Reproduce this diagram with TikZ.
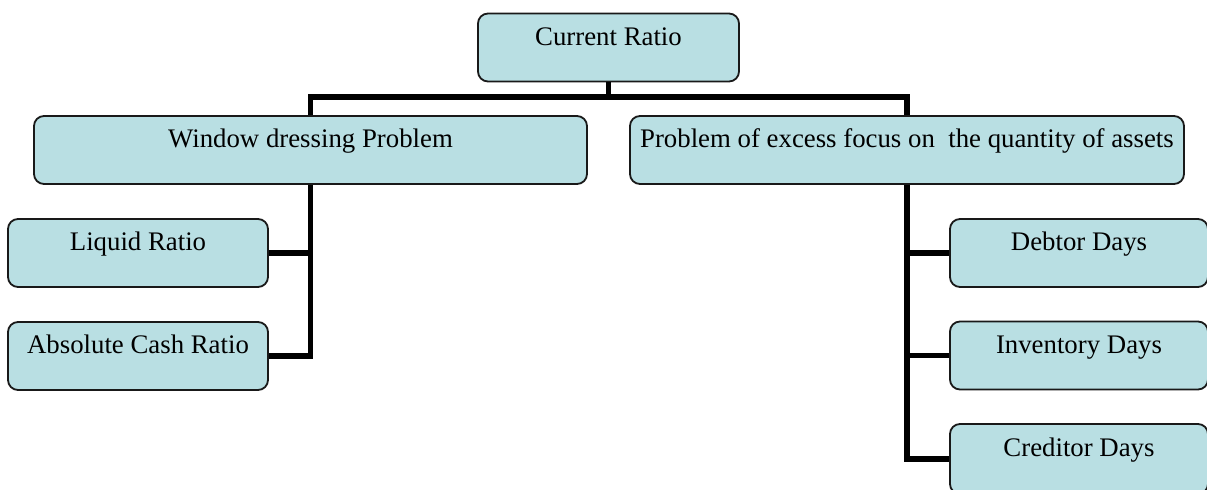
\documentclass[tikz,border=0pt]{standalone}
\usepackage{fontspec}
\setmainfont{Liberation Serif}
\definecolor{boxfill}{RGB}{185,223,227}
\begin{document}
\begin{tikzpicture}[x=0.5pt,y=-0.5pt,
  box/.style={draw=black!90, line width=0.9pt, fill=boxfill, rounded corners=5pt,
    font=\fontsize{13.4}{15}\selectfont, text height=9pt, text depth=11.5pt,
    inner sep=0pt, minimum height=34pt},
  conn/.style={line width=2.8pt, line join=miter}]
\useasboundingbox (0,0) rectangle (1207,489);
\clip (0,0) rectangle (1207,489);
\coordinate (bus) at (0,97);
\node[box, minimum width=130.5pt] (cr) at (608.5,47.5) {Current Ratio};
\node[box, minimum width=276.5pt] (wd) at (310.5,150) {Window dressing Problem};
\node[box, minimum width=277pt] (pr) at (907,150) {Problem of excess focus on\ \ the quantity of assets};
\node[box, minimum width=130pt] (lr) at (138,253) {Liquid Ratio};
\node[box, minimum width=130pt] (acr) at (138,356) {Absolute Cash Ratio};
\node[box, minimum width=129pt] (dd) at (1079,253) {Debtor Days};
\node[box, minimum width=129pt] (id) at (1079,355.5) {Inventory Days};
\node[box, minimum width=129pt, minimum height=35pt] (cd) at (1079,459) {Creditor Days};
\draw[conn] (cr.south) -- (cr.south |- bus);
\draw[conn] (wd.north) -- (wd.north |- bus) -- (pr.north |- bus) -- (pr.north);
\draw[conn] (wd.south) |- (acr.east);
\draw[conn] (lr.east) -- (lr.east -| wd.south);
\draw[conn] (pr.south) |- (cd.west);
\draw[conn] (dd.west) -- (dd.west -| pr.south);
\draw[conn] (id.west) -- (id.west -| pr.south);
\end{tikzpicture}
\end{document}
